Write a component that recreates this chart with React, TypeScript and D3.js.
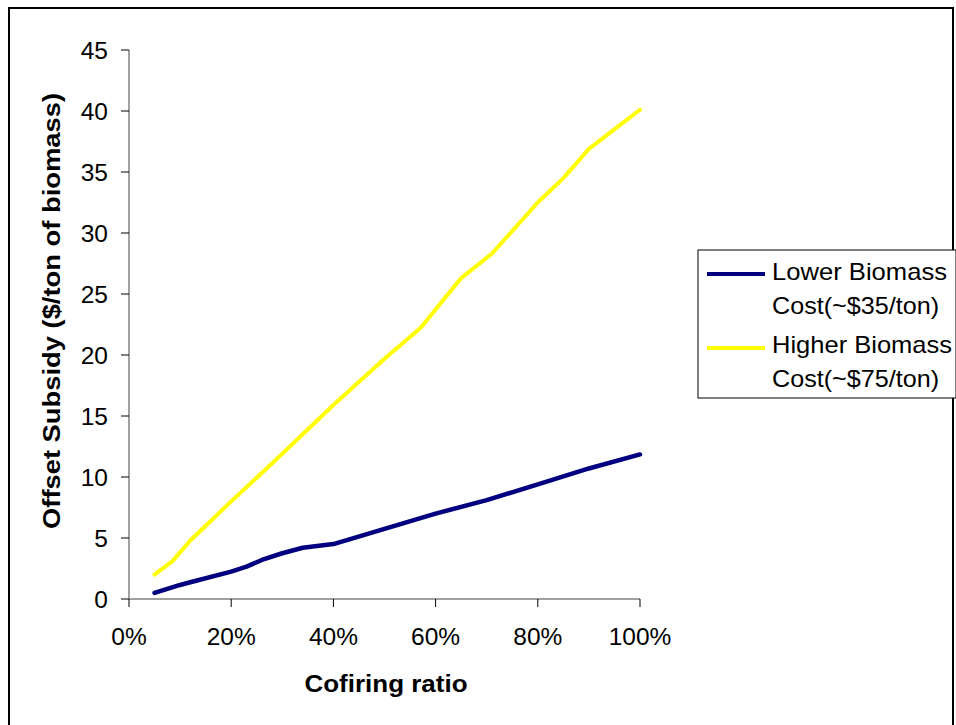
import React from "react";
import * as d3 from "d3";

const yTicks = [0, 5, 10, 15, 20, 25, 30, 35, 40, 45];
const xTicks = [0, 0.2, 0.4, 0.6, 0.8, 1.0];

const lowerX = [0.05, 0.1, 0.12, 0.2, 0.23, 0.26, 0.3, 0.34, 0.4, 0.5, 0.6, 0.7, 0.8, 0.9, 1.0];
const lowerY = [0.5, 1.15, 1.37, 2.24, 2.65, 3.2, 3.75, 4.2, 4.5, 5.75, 7.0, 8.1, 9.4, 10.7, 11.85];

const higherX = [0.05, 0.085, 0.12, 0.2, 0.3, 0.4, 0.5, 0.57, 0.65, 0.71, 0.8, 0.85, 0.9, 1.0];
const higherY = [2.0, 3.1, 4.8, 8.0, 11.9, 15.9, 19.7, 22.2, 26.3, 28.3, 32.5, 34.5, 36.9, 40.1];

const seriesNames = ["Lower Biomass", "Higher Biomass"];
const seriesSub = ["Cost(~$35/ton)", "Cost(~$75/ton)"];
const seriesColors = ["#000080", "#FFFF00"];

const FONT = "'Liberation Sans', Arial, sans-serif";

export default function App() {
  const W = 956;
  const H = 725;
  const x = d3.scaleLinear().domain([0, 1]).range([129, 640]);
  const y = d3.scaleLinear().domain([0, 45]).range([599, 50]);
  const line = d3
    .line<[number, number]>()
    .x((d) => x(d[0]))
    .y((d) => y(d[1]));
  const lowerData = lowerX.map((v, i) => [v, lowerY[i]] as [number, number]);
  const higherData = higherX.map((v, i) => [v, higherY[i]] as [number, number]);
  const fmt = d3.format(".0%");
  const nameLen = [175, 180];
  const subLen = [167, 167];

  return (
    <svg
      width={W}
      height={H}
      style={{ position: "absolute", left: 0, top: 0, background: "#fff" }}
      fontFamily={FONT}
    >
      <rect x={0} y={0} width={W} height={H} fill="#fff" />
      {/* outer border */}
      <rect x={9} y={8} width={944} height={730} fill="none" stroke="#000" strokeWidth={2} />

      {/* y axis */}
      <line x1={129} x2={129} y1={y(45)} y2={y(0)} stroke="#808080" strokeWidth={1.5} />
      {yTicks.map((t) => (
        <g key={"y" + t}>
          <line x1={121} x2={129} y1={y(t)} y2={y(t)} stroke="#000" strokeWidth={1} />
          <text x={108} y={y(t)} dy="0.35em" textAnchor="end" fontSize={24.5} fill="#000">
            {t}
          </text>
        </g>
      ))}

      {/* x axis */}
      <line x1={x(0)} x2={x(1)} y1={599} y2={599} stroke="#808080" strokeWidth={1.5} />
      {xTicks.map((t) => (
        <g key={"x" + t}>
          <line x1={x(t)} x2={x(t)} y1={599} y2={607} stroke="#000" strokeWidth={1} />
          <text x={x(t)} y={645} textAnchor="middle" fontSize={24.5} fill="#000">
            {fmt(t)}
          </text>
        </g>
      ))}

      {/* axis titles */}
      <text
        x={386}
        y={692}
        textAnchor="middle"
        fontSize={24}
        fontWeight="bold"
        fill="#000"
        textLength={163}
        lengthAdjust="spacingAndGlyphs"
      >
        Cofiring ratio
      </text>
      <text
        transform={`translate(60, 311) rotate(-90)`}
        textAnchor="middle"
        fontSize={24}
        fontWeight="bold"
        fill="#000"
        textLength={436}
        lengthAdjust="spacingAndGlyphs"
      >
        Offset Subsidy ($/ton of biomass)
      </text>

      {/* series */}
      <path d={line(higherData) || ""} fill="none" stroke={seriesColors[1]} strokeWidth={4} strokeLinejoin="round" strokeLinecap="round" />
      <path d={line(lowerData) || ""} fill="none" stroke={seriesColors[0]} strokeWidth={4.5} strokeLinejoin="round" strokeLinecap="round" />

      {/* legend */}
      <rect x={698} y={250} width={258} height={148} fill="#fff" stroke="#000" strokeWidth={1} />
      {seriesNames.map((n, i) => (
        <g key={n}>
          <line x1={707} x2={765} y1={274 + i * 74} y2={274 + i * 74} stroke={seriesColors[i]} strokeWidth={4} />
          <text x={772} y={280 + i * 73} fontSize={24} fill="#000" textLength={nameLen[i]} lengthAdjust="spacingAndGlyphs">
            {n}
          </text>
          <text x={772} y={314 + i * 73} fontSize={24} fill="#000" textLength={subLen[i]} lengthAdjust="spacingAndGlyphs">
            {seriesSub[i]}
          </text>
        </g>
      ))}
    </svg>
  );
}
